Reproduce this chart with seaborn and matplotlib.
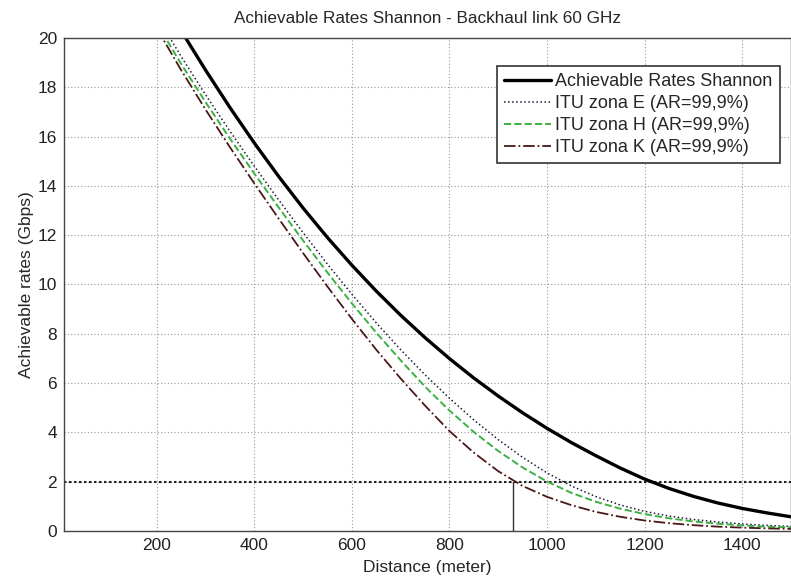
import numpy as np
import pandas as pd
import matplotlib
matplotlib.use('Agg')
import matplotlib.pyplot as plt
import seaborn as sns

# Values (distance in meters, rate in Gbps)
distance = [200, 250, 300, 350, 400, 450, 500, 550, 600, 650, 700, 750, 800, 850,
            900, 950, 1000, 1050, 1100, 1150, 1200, 1250, 1300, 1350, 1400, 1450, 1500]
shannon = [22.0, 20.3, 18.7, 17.18, 15.74, 14.38, 13.1, 11.9, 10.78, 9.73, 8.75, 7.84, 6.99,
           6.2, 5.47, 4.79, 4.16, 3.58, 3.05, 2.55, 2.1, 1.72, 1.4, 1.13, 0.91, 0.73, 0.57]
zona_e = [20.9, 19.25, 17.7, 16.22, 14.8, 13.43, 12.1, 10.82, 9.6, 8.44, 7.35, 6.33, 5.38,
          4.5, 3.7, 2.98, 2.35, 1.82, 1.39, 1.05, 0.79, 0.6, 0.46, 0.36, 0.28, 0.22, 0.18]
zona_h = [20.6, 18.95, 17.4, 15.92, 14.5, 13.12, 11.78, 10.48, 9.23, 8.04, 6.92, 5.85, 4.88,
          4.01, 3.24, 2.57, 2.0, 1.54, 1.18, 0.9, 0.68, 0.51, 0.38, 0.29, 0.22, 0.17, 0.14]
zona_k = [20.4, 18.7, 17.1, 15.57, 14.1, 12.67, 11.27, 9.91, 8.6, 7.35, 6.18, 5.08, 4.05,
          3.17, 2.42, 1.82, 1.38, 1.04, 0.77, 0.57, 0.42, 0.31, 0.23, 0.17, 0.13, 0.1, 0.08]

threshold_rate = 2
cross_distance = 930

x_ticks = [200, 400, 600, 800, 1000, 1200, 1400]
y_ticks = list(range(0, 21, 2))

labels = ['Achievable Rates Shannon', 'ITU zona E (AR=99,9%)',
          'ITU zona H (AR=99,9%)', 'ITU zona K (AR=99,9%)']

df = pd.DataFrame({'Distance': distance, 'Shannon': shannon,
                   'E': zona_e, 'H': zona_h, 'K': zona_k})

sns.set_style('white')
plt.rcParams['font.family'] = ['Liberation Sans', 'DejaVu Sans']

fig = plt.figure(figsize=(7.91, 5.77), dpi=100)
ax = fig.add_axes([0.081, 0.080, 0.919, 0.854])

styles = [
    ('Shannon', '#000000', '-', 2.4),
    ('E', '#1c1c3c', ':', 1.1),
    ('H', '#3cb043', '--', 1.4),
    ('K', '#4a1818', '-.', 1.3),
]
for (col, color, ls, lw), lab in zip(styles, labels):
    sns.lineplot(data=df, x='Distance', y=col, ax=ax, color=color,
                 linestyle=ls, linewidth=lw, label=lab)

# threshold markers
ax.axhline(threshold_rate, color='#222222', linestyle=(0, (1.2, 1.2)), linewidth=1.5, zorder=1)
ax.plot([cross_distance, cross_distance], [0, threshold_rate], color='#333333', linewidth=1.0)

ax.set_xlim(10, 1500)
ax.set_ylim(0, 20)
ax.set_xticks(x_ticks)
ax.set_yticks(y_ticks)
ax.grid(True, color='#9a9a9a', linestyle=(0, (1, 2)), linewidth=0.8)
ax.tick_params(direction='in', length=4, labelsize=12.5, colors='#222222', pad=5)
for s in ax.spines.values():
    s.set_color('#444444')
    s.set_linewidth(1.0)

ax.set_title('Achievable Rates Shannon - Backhaul link 60 GHz', fontsize=12.3, pad=11)
ax.set_xlabel('Distance (meter)', fontsize=12.5, labelpad=5)
ax.set_ylabel('Achievable rates (Gbps)', fontsize=12.5, labelpad=3)

leg = ax.legend(loc='upper right', bbox_to_anchor=(0.997, 0.962), fontsize=13,
                fancybox=False, framealpha=1, edgecolor='#333333',
                handlelength=2.6, borderpad=0.4, labelspacing=0.28, handletextpad=0.25)
leg.get_frame().set_linewidth(1.2)

fig.savefig('out.png', dpi=100)
